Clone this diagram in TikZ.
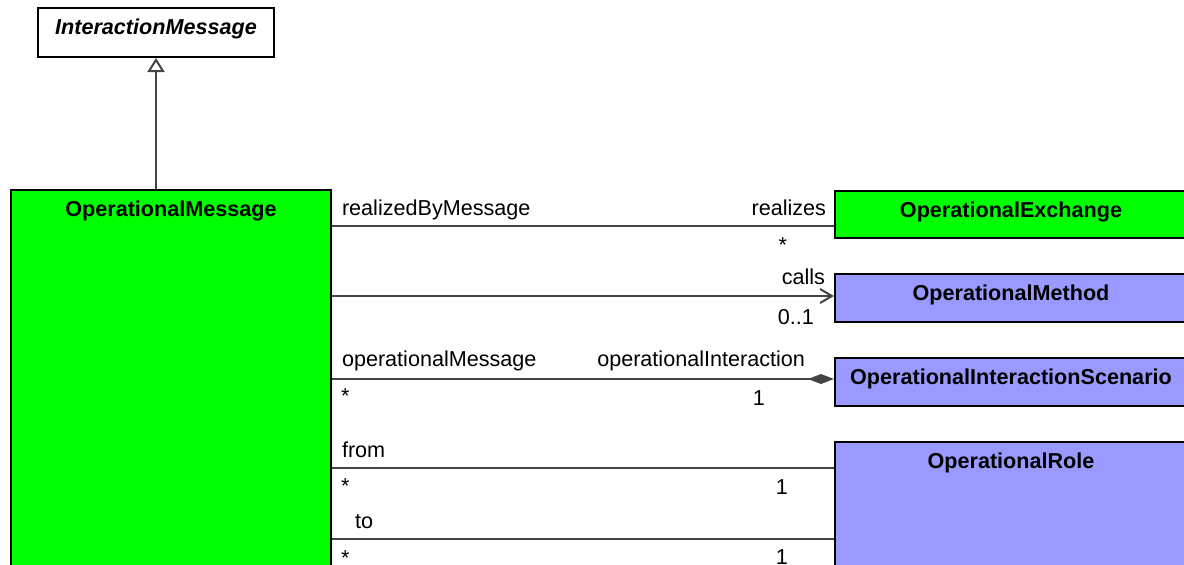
\documentclass[tikz,border=0pt]{standalone}
\usepackage{fontspec}
\setmainfont{Liberation Sans}
\usepackage{tikz}
\usetikzlibrary{positioning,arrows.meta}
\definecolor{ClassGreen}{HTML}{00FF00}
\definecolor{ClassBlue}{HTML}{9999FF}
\definecolor{LineGray}{HTML}{444444}
\newcommand{\uml}[1]{\textbf{#1}}

\begin{document}
\begin{tikzpicture}[x=0.5pt, y=-0.5pt, node distance=17pt,
  every node/.style={font=\fontsize{10.8}{13}\selectfont},
  classbox/.style={draw=black, line width=1pt, minimum width=176pt, minimum height=24pt,
    label={[anchor=north, yshift=-5.5pt, inner sep=0pt]north:#1}},
  assoc/.style={draw=LineGray, line width=1pt},
  endlabel/.style={inner sep=0pt}]
  \clip (0,0) rectangle (1184,564);
  \node[classbox={\uml{\itshape InteractionMessage}},fill=white,anchor=north west,minimum width=118pt,minimum height=24.5pt] (imsg) at (37,7) {};
  \node[classbox={\uml{OperationalMessage}},fill=ClassGreen,anchor=north west,minimum width=160pt,minimum height=200pt] (opmsg) at (10,189) {};
  \node[classbox={\uml{OperationalExchange}},fill=ClassGreen,anchor=north west,minimum height=23.5pt] (exch) at (834,190) {};
  \node[classbox={\uml{OperationalMethod}},fill=ClassBlue,below=of exch] (meth) {};
  \node[classbox={\uml{OperationalInteractionScenario}},fill=ClassBlue,below=of meth] (scen) {};
  \node[classbox={\uml{OperationalRole}},fill=ClassBlue,below=of scen,minimum height=80pt] (role) {};
  % generalization
  \draw[assoc,-{Triangle[open,length=7pt,width=8.5pt,fill=white]}] (imsg.south |- opmsg.north) -- (imsg.south);
  % realizes
  \draw[assoc] (opmsg.east |- 0,226) -- (exch.west |- 0,226)
    node[endlabel,pos=0,anchor=base west,xshift=4.5pt,yshift=5.5pt] {realizedByMessage}
    node[endlabel,pos=1,anchor=base east,xshift=-3.5pt,yshift=5.5pt] {realizes}
    node[endlabel,pos=1,anchor=north east,xshift=-23pt,yshift=-5.5pt] {*};
  % calls
  \draw[assoc,-{Straight Barb[length=6pt,width=7pt]}] (opmsg.east |- 0,296) -- (meth.west |- 0,296)
    node[endlabel,pos=1,anchor=base east,xshift=-4pt,yshift=6pt] {calls}
    node[endlabel,pos=1,anchor=north east,xshift=-9.5pt,yshift=-6pt] {0..1};
  % composition
  \draw[assoc,-{Diamond[length=13pt,width=5pt]}] (opmsg.east |- 0,379) -- (scen.west |- 0,379)
    node[endlabel,pos=0,anchor=base west,xshift=4.5pt,yshift=6.5pt] {operationalMessage}
    node[endlabel,pos=0,anchor=north west,xshift=4pt,yshift=-4.5pt] {*}
    node[endlabel,pos=1,anchor=base east,xshift=-14pt,yshift=6.5pt] {operationalInteraction}
    node[endlabel,pos=1,anchor=north east,xshift=-34pt,yshift=-5.5pt] {1};
  % from
  \draw[assoc] (opmsg.east |- 0,468) -- (role.west |- 0,468)
    node[endlabel,pos=0,anchor=base west,xshift=4.5pt,yshift=5.5pt] {from}
    node[endlabel,pos=0,anchor=north west,xshift=4pt,yshift=-5pt] {*}
    node[endlabel,pos=1,anchor=north east,xshift=-22.5pt,yshift=-5.5pt] {1};
  % to
  \draw[assoc] (opmsg.east |- 0,539) -- (role.west |- 0,539)
    node[endlabel,pos=0,anchor=base west,xshift=11pt,yshift=5.5pt] {to}
    node[endlabel,pos=0,anchor=north west,xshift=4pt,yshift=-5.5pt] {*}
    node[endlabel,pos=1,anchor=north east,xshift=-22.5pt,yshift=-5pt] {1};
\end{tikzpicture}
\end{document}
